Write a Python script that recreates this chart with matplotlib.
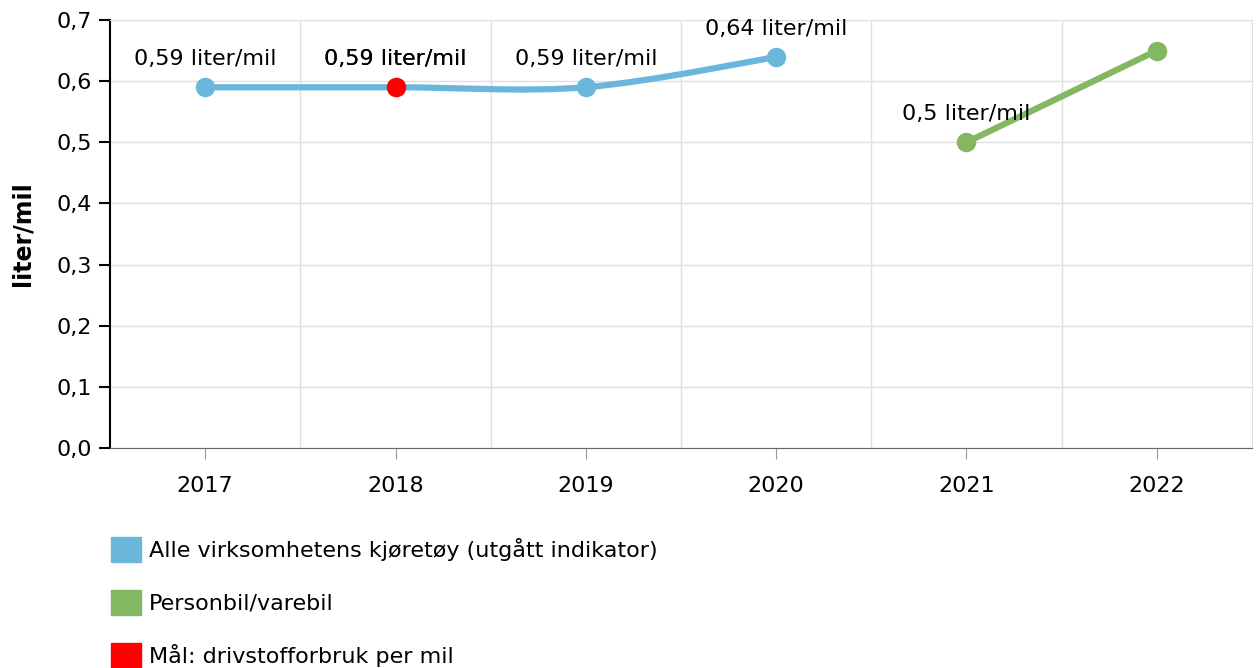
import numpy as np
from matplotlib import pyplot as plt
from matplotlib.path import Path
from matplotlib.patches import PathPatch, Patch

years = ['2017', '2018', '2019', '2020', '2021', '2022']
alle = [0.59, 0.59, 0.59, 0.64, None, None]
personbil = [None, None, None, None, 0.50, 0.65]
maal = [None, 0.59, None, None, None, None]
alle_labels = ['0,59 liter/mil', '0,59 liter/mil', '0,59 liter/mil', '0,64 liter/mil']
personbil_labels = ['0,5 liter/mil', None]
maal_labels = ['0,59 liter/mil']

blue = '#6bb7dc'
green = '#84b761'
red = '#ff0000'
fs = 16


def spline_path(xs, ys, smoothing=1.5):
    # highcharts-like spline through the points
    verts = [(xs[0], ys[0])]
    codes = [Path.MOVETO]
    n = len(xs)
    conts = []
    for i in range(n):
        if i == 0 or i == n - 1:
            conts.append(((xs[i], ys[i]), (xs[i], ys[i])))
            continue
        d = smoothing + 1
        lx = (smoothing * xs[i] + xs[i - 1]) / d
        ly = (smoothing * ys[i] + ys[i - 1]) / d
        rx = (smoothing * xs[i] + xs[i + 1]) / d
        ry = (smoothing * ys[i] + ys[i + 1]) / d
        corr = 0
        if rx != lx:
            corr = (ry - ly) * (rx - xs[i]) / (rx - lx) + ys[i] - ry
        conts.append(((lx, ly + corr), (rx, ry + corr)))
    for i in range(1, n):
        verts += [conts[i - 1][1], conts[i][0], (xs[i], ys[i])]
        codes += [Path.CURVE4] * 3
    return Path(verts, codes)


fig = plt.figure(figsize=(12.56, 6.68), dpi=100)
ax = fig.add_axes([110 / 1256, 1 - 448 / 668, 1142 / 1256, 428 / 668])
x = np.arange(len(years))

# blue spline
bx = [i for i, v in enumerate(alle) if v is not None]
by = [v for v in alle if v is not None]
ax.add_patch(PathPatch(spline_path(bx, by, smoothing=2.0), facecolor='none', edgecolor=blue, lw=4.5,
                       capstyle='round', zorder=3))
ax.plot(bx, by, 'o', color=blue, ms=13, zorder=4)

gx = [i for i, v in enumerate(personbil) if v is not None]
gy = [v for v in personbil if v is not None]
ax.plot(gx, gy, '-o', color=green, lw=4.5, ms=13, zorder=3)

rx = [i for i, v in enumerate(maal) if v is not None]
ry = [v for v in maal if v is not None]
ax.plot(rx, ry, 'o', color=red, ms=13, zorder=5)

for xs_, ys_, labs in [(bx, by, alle_labels), (gx, gy, personbil_labels), (rx, ry, maal_labels)]:
    for xi, yi, lab in zip(xs_, ys_, labs):
        if lab:
            ax.annotate(lab, (xi, yi), xytext=(0, 13), textcoords='offset points',
                        ha='center', va='bottom', fontsize=fs, color='black', zorder=6)

ax.set_xlim(-0.5, len(years) - 0.5)
ax.set_ylim(0, 0.7)
ax.set_xticks(x)
ax.set_xticklabels(years, fontsize=fs)
yt = np.arange(0, 0.71, 0.1)
ax.set_yticks(yt)
ax.set_yticklabels([f'{v:.1f}'.replace('.', ',') for v in yt], fontsize=fs)
ax.set_xticks(np.arange(0.5, len(years) - 0.5, 1), minor=True)
ax.grid(axis='y', color='#e0e0e0', lw=1)
ax.grid(axis='x', which='minor', color='#e0e0e0', lw=1)
ax.tick_params(axis='x', which='minor', length=0)
ax.tick_params(axis='x', which='major', length=8, color='#999999', pad=12)
ax.tick_params(axis='y', length=8, width=1.5, color='black', pad=5)
ax.set_axisbelow(True)
ax.spines['top'].set_color('#e0e0e0')
ax.spines['right'].set_color('#e0e0e0')
ax.spines['left'].set_linewidth(1.5)
ax.spines['bottom'].set_color('#666666')
ax.set_ylabel('liter/mil', fontsize=17, fontweight='bold')
ax.yaxis.set_label_coords(-76 / 1142, 0.5)

handles = [Patch(color=blue), Patch(color=green), Patch(color=red)]
names = ['Alle virksomhetens kjøretøy (utgått indikator)', 'Personbil/varebil',
         'Mål: drivstofforbruk per mil']
fig.legend(handles, names, loc='upper left', bbox_to_anchor=(102 / 1256, 1 - 528 / 668),
           frameon=False, fontsize=fs, handlelength=1.35, handleheight=1.35,
           labelspacing=1.27, handletextpad=0.35, borderaxespad=0)

fig.savefig('out.png', dpi=100)
